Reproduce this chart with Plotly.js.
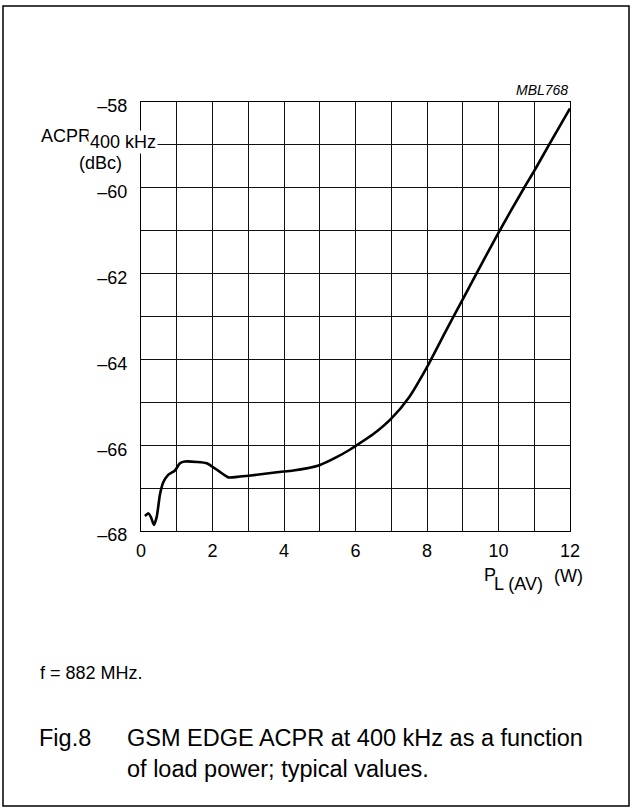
<!DOCTYPE html>
<html>
<head>
<meta charset="utf-8">
<script src="https://cdn.plot.ly/plotly-3.0.1.min.js"></script>
<style>
html,body{margin:0;padding:0;background:#fff;}
#chart{width:639px;height:812px;}
</style>
</head>
<body>
<div id="chart"></div>
<script>
// ---- data ----
const loadPowerW = [0.11, 0.21, 0.28, 0.36, 0.44, 0.53, 0.62, 0.76, 0.95, 1.09, 1.23, 1.56, 1.84, 2.12, 2.44, 2.77, 3.24, 3.80, 4.26, 4.63, 5.01, 5.47, 5.85, 6.0, 6.5, 7.0, 7.5, 8.0, 8.5, 9.0, 9.39, 9.99, 10.71, 10.99, 11.44, 12.0];
const acprDbc   = [-67.65, -67.59, -67.68, -67.86, -67.67, -67.15, -66.87, -66.69, -66.59, -66.42, -66.38, -66.39, -66.42, -66.57, -66.75, -66.73, -66.69, -66.63, -66.59, -66.54, -66.46, -66.28, -66.10, -66.02, -65.74, -65.38, -64.88, -64.18, -63.38, -62.60, -61.99, -61.06, -60.01, -59.62, -58.96, -58.15];

const xTickVals = [0, 2, 4, 6, 8, 10, 12];
const xTickText = ["0", "2", "4", "6", "8", "10", "12"];
const xMinorVals = [1, 3, 5, 7, 9, 11];
const yTickVals = [-58, -60, -62, -64, -66, -68];
const yTickText = ["\u201358", "\u201360", "\u201362", "\u201364", "\u201366", "\u201368"];
const yMinorVals = [-59, -61, -63, -65, -67];

const figureCode = "MBL768";
const noteText = "f = 882 MHz.";
const figLabel = "Fig.8";
const captionLine1 = "GSM EDGE ACPR at 400 kHz as a function";
const captionLine2 = "of load power; typical values.";

// ---- layout geometry (pixels) ----
const W = 639, H = 812;
const L = 141, R = 570, T = 102, B = 531;
const px = x => (x - L) / (R - L);
const py = y => (B - y) / (B - T);
const FONT = "Liberation Sans, Arial, Helvetica, sans-serif";

function txt(text, x, y, size, xanchor, extra) {
  return Object.assign({
    text: text, xref: 'paper', yref: 'paper', x: px(x), y: py(y),
    xanchor: xanchor || 'left', yanchor: 'middle', showarrow: false,
    font: {family: FONT, size: size, color: '#000'}
  }, extra || {});
}

const trace = {
  x: loadPowerW, y: acprDbc, type: 'scatter', mode: 'lines',
  line: {color: '#000', width: 2.6, shape: 'spline', smoothing: 0.6},
  hoverinfo: 'skip'
};

const gridC = '#111';
const layout = {
  width: W, height: H, autosize: false,
  margin: {l: L, r: W - R, t: T, b: H - B, pad: 0},
  paper_bgcolor: '#fff', plot_bgcolor: '#fff',
  showlegend: false,
  font: {family: FONT, size: 18, color: '#000'},
  xaxis: {
    range: [0, 12], tickmode: 'array', tickvals: xTickVals, ticktext: xTickText,
    showgrid: true, gridcolor: gridC, gridwidth: 1,
    minor: {tickmode: 'array', tickvals: xMinorVals, showgrid: true, gridcolor: gridC, gridwidth: 1, ticks: ''},
    showline: true, mirror: true, linecolor: '#000', linewidth: 1,
    ticks: '', zeroline: false, ticklabelstandoff: 3,
    tickfont: {family: FONT, size: 18, color: '#000'}, fixedrange: true
  },
  yaxis: {
    range: [-68, -58], tickmode: 'array', tickvals: yTickVals, ticktext: yTickText,
    showgrid: true, gridcolor: gridC, gridwidth: 1,
    minor: {tickmode: 'array', tickvals: yMinorVals, showgrid: true, gridcolor: gridC, gridwidth: 1, ticks: ''},
    showline: true, mirror: true, linecolor: '#000', linewidth: 1,
    ticks: '', zeroline: false, ticklabelstandoff: 9, ticklabelshift: 4,
    tickfont: {family: FONT, size: 18, color: '#000'}, fixedrange: true
  },
  shapes: [{
    type: 'rect', xref: 'paper', yref: 'paper',
    x0: px(3), x1: px(629), y0: py(6), y1: py(806),
    line: {color: '#000', width: 1.5}, fillcolor: 'rgba(0,0,0,0)', layer: 'below'
  }],
  annotations: [
    txt('<i>' + figureCode + '</i>', 570, 90, 14, 'right'),
    txt('ACPR', 39, 136, 18, 'left'),
    txt('400 kHz', 88, 142, 18, 'left', {bgcolor: '#fff', borderpad: 1}),
    txt('(dBc)', 100, 163, 18, 'center'),
    txt('P', 482, 575, 18, 'left'),
    txt('L (AV)', 492, 584, 18, 'left'),
    txt('(W)', 552, 576, 18, 'left'),
    txt(noteText, 38, 673, 18, 'left'),
    txt(figLabel, 37, 738, 23.5, 'left'),
    txt(captionLine1, 125, 738, 23.5, 'left'),
    txt(captionLine2, 125, 769, 23.5, 'left')
  ]
};

Plotly.newPlot('chart', [trace], layout, {staticPlot: true, displayModeBar: false});
</script>
</body>
</html>
